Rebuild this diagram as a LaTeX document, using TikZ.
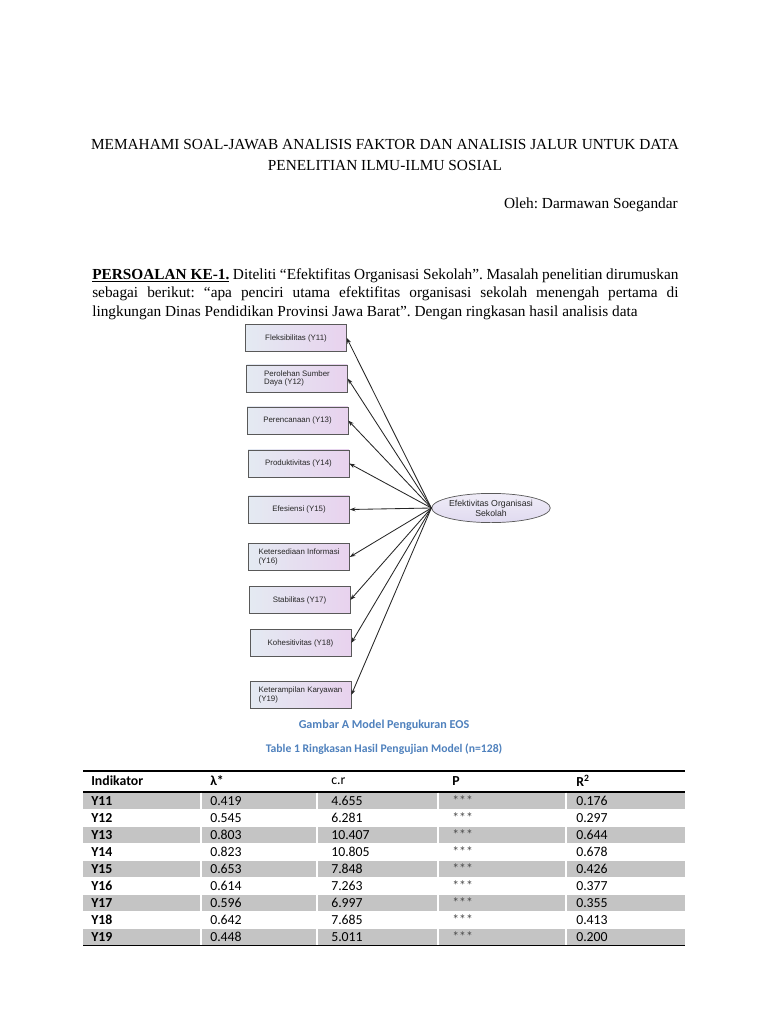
\documentclass[tikz,border=0pt]{standalone}
\usepackage{fontspec}
\setmainfont{Liberation Serif}
\newfontfamily\arialfont{Liberation Sans}
\newfontfamily\calibrifont{Carlito}
\usetikzlibrary{shapes.geometric,arrows.meta,positioning}

\definecolor{capblue}{RGB}{79,129,189}
\definecolor{boxleft}{RGB}{228,234,242}
\definecolor{boxright}{RGB}{232,210,238}
\definecolor{ellfill}{RGB}{224,218,240}
\definecolor{rowgray}{RGB}{196,196,196}

\begin{document}
\frenchspacing
\begin{tikzpicture}[x=0.025cm, y=-0.025cm,
  heading/.style={font=\fontsize{10.9}{14.4}\selectfont, align=center, inner sep=0pt},
  body/.style={font=\fontsize{10.9}{13.2}\selectfont, align=justify,
               text width=14.65cm, inner sep=0pt},
  indik/.style={rectangle, draw=black!65, line width=0.5pt,
                left color=boxleft, right color=boxright,
                minimum width=2.52cm, minimum height=0.68cm, align=left,
                font=\arialfont\fontsize{5.6}{6.2}\selectfont, text=black!85, inner sep=1pt},
  latent/.style={ellipse, draw=black!65, line width=0.5pt,
                 top color=white!50!ellfill, bottom color=ellfill,
                 minimum width=2.5cm, minimum height=0.73cm, inner sep=0pt, align=center,
                 font=\arialfont\fontsize{6.2}{7.2}\selectfont, text=black!85},
  arr/.style={draw=black!85, line width=0.6pt, -{Stealth[length=4pt,width=2.8pt]}},
  caption/.style={font=\calibrifont\bfseries\fontsize{8.3}{9}\selectfont,
                  text=capblue, inner sep=0pt},
  cell/.style={anchor=west, font=\calibrifont\fontsize{9.8}{11}\selectfont, inner sep=0pt},
]
  \fill[white] (0,0) rectangle (768,1024);
  \useasboundingbox (0,0) rectangle (768,1024);

  % Title, author and problem statement
  \node[heading] (title) at (385,155)
       {MEMAHAMI SOAL-JAWAB ANALISIS FAKTOR DAN ANALISIS JALUR UNTUK DATA\\
        PENELITIAN ILMU-ILMU SOSIAL};
  \node[heading, anchor=east] (author) at (678,205) {Oleh: Darmawan Soegandar};
  \node[body, anchor=north west] (problem) at (92,268)
       {\hyphenpenalty=10000 \spaceskip=0.25em plus 0.5em minus 0.15em
        \underline{\textbf{PERSOALAN KE-1.}} Diteliti “Efektifitas Organisasi Sekolah”. Masalah penelitian dirumuskan\linebreak
        sebagai berikut: “apa penciri utama efektifitas organisasi sekolah menengah pertama di\linebreak
        lingkungan Dinas Pendidikan Provinsi Jawa Barat”. Dengan ringkasan hasil analisis data};

  % Measurement model: indicators
  \node[indik] (y11) at (296,338)   {Fleksibilitas (Y11)};
  \node[indik] (y12) at (297,378.5) {Perolehan Sumber\\Daya (Y12)};
  \node[indik] (y13) at (297.5,420.5) {Perencanaan (Y13)};
  \node[indik] (y14) at (298.5,463.5) {Produktivitas (Y14)};
  \node[indik] (y15) at (299,509.5) {Efesiensi (Y15)};
  \node[indik] (y16) at (299,557)   {Ketersediaan Informasi\\(Y16)};
  \node[indik] (y17) at (299.5,600) {Stabilitas (Y17)};
  \node[indik] (y18) at (300.5,643) {Kohesitivitas (Y18)};
  \node[indik] (y19) at (300.5,695) {Keterampilan Karyawan\\(Y19)};

  % Latent variable
  \node[latent] (eos) at (491,508) {Efektivitas Organisasi\\Sekolah};

  % Loadings: latent -> indicators
  \foreach \b in {y11,y12,y13,y14,y15,y16,y17,y18,y19}
    \draw[arr] (eos.west) -- (\b.east);

  % Captions
  \node[caption, font=\calibrifont\bfseries\fontsize{8.6}{9}\selectfont] (figcap) at (384,725)
       {Gambar A Model Pengukuran EOS};
  \node[caption] (tabcap) at (384,749) {Table 1 Ringkasan Hasil Pengujian Model (n=128)};

  % Table header
  \draw[line width=0.8pt] (83,771) -- (685,771);
  \node[cell, font=\calibrifont\bfseries\fontsize{9.8}{11}\selectfont] (hind) at (91,781) {Indikator};
  \node[cell, font=\calibrifont\bfseries\fontsize{9.8}{11}\selectfont] (hlam) at (210,781) {λ*};
  \node[cell] (hcr) at (331,781) {c.r};
  \node[cell, font=\calibrifont\bfseries\fontsize{9.8}{11}\selectfont] (hp) at (452,781) {P};
  \node[cell, font=\calibrifont\bfseries\fontsize{9.8}{11}\selectfont] (hr) at (576,781) {R\textsuperscript{2}};
  \draw[line width=1pt] (83,792) -- (685,792);

  % Table rows (shaded every other row)
  \foreach \id/\lam/\cr/\rsq/\sh [count=\i from 0] in
    {Y11/0.419/4.655/0.176/1, Y12/0.545/6.281/0.297/0,
     Y13/0.803/10.407/0.644/1, Y14/0.823/10.805/0.678/0,
     Y15/0.653/7.848/0.426/1, Y16/0.614/7.263/0.377/0,
     Y17/0.596/6.997/0.355/1, Y18/0.642/7.685/0.413/0,
     Y19/0.448/5.011/0.200/1} {
    \ifnum\sh=1
      \fill[rowgray] (83,{792.6+17*\i}) rectangle (685,{808.6+17*\i});
      \foreach \vx in {201,317,438,566}
        \draw[white, line width=0.8pt] (\vx,{792.6+17*\i}) -- (\vx,{808.6+17*\i});
    \fi
    \node[cell, font=\calibrifont\bfseries\fontsize{9.8}{11}\selectfont] (ind\i) at (91,{800.8+17*\i}) {\id};
    \node[cell] (lam\i) at (210,{800.8+17*\i}) {\lam};
    \node[cell] (cr\i) at (331,{800.8+17*\i}) {\cr};
    \node[cell, text=black!70] (p\i) at (452,{800.8+17*\i}) {***};
    \node[cell] (rsq\i) at (576,{800.8+17*\i}) {\rsq};
  }
  \draw[line width=1.4pt] (83,945.5) -- (685,945.5);

\end{tikzpicture}
\end{document}
